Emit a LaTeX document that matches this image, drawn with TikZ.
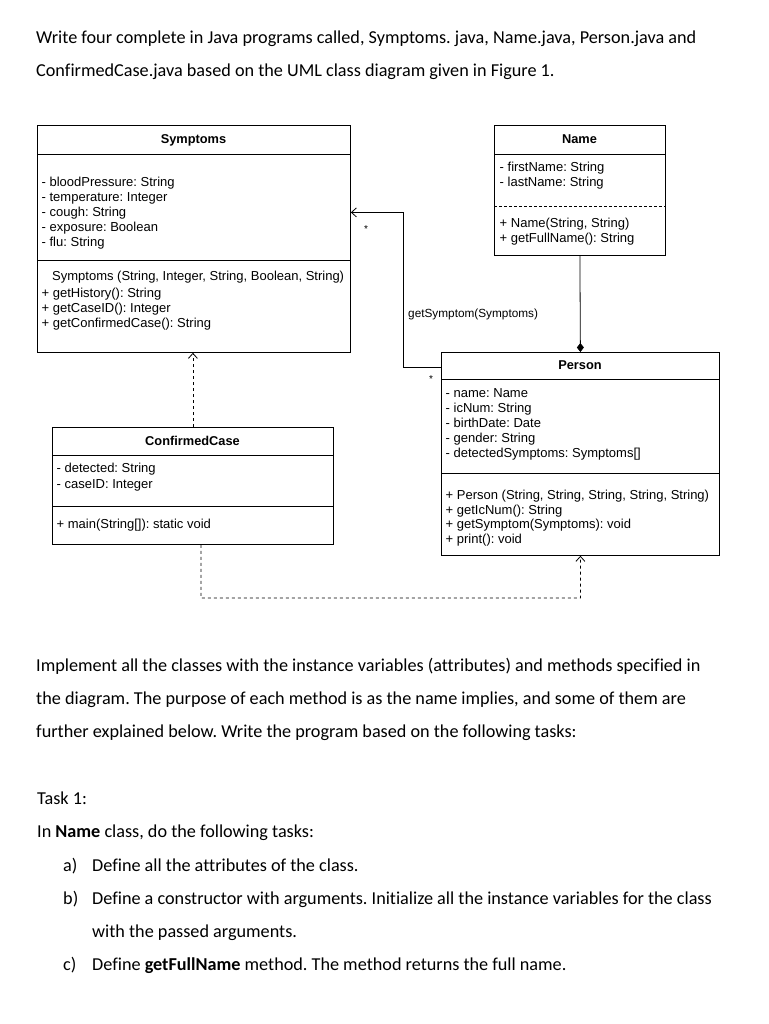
\documentclass[tikz,border=0pt]{standalone}
\usepackage{fontspec}
\setmainfont{Carlito}[Ligatures={NoCommon}]
\newfontfamily\umlfont{Liberation Sans}
\usetikzlibrary{arrows.meta}
\frenchspacing
\begin{document}
\begin{tikzpicture}[x=1pt,y=-1pt,
  classbox/.style={draw, line width=0.8pt, inner sep=0pt, anchor=north west},
  divline/.style={line width=0.8pt},
  ut/.style={anchor=base west, inner sep=0pt, font=\umlfont\fontsize{13}{15}\selectfont},
  lt/.style={anchor=base west, inner sep=0pt, font=\umlfont\fontsize{11.8}{14}\selectfont},
  uc/.style={anchor=base, inner sep=0pt, font=\umlfont\bfseries\fontsize{12.8}{15}\selectfont},
  bt/.style={anchor=base west, inner sep=0pt, font=\fontsize{18.2}{22}\selectfont},
  star/.style={inner sep=0pt, font=\umlfont\fontsize{10}{11}\selectfont},
  assoc/.style={line width=0.8pt, -{Straight Barb[length=5pt,width=9pt]}},
  dep/.style={line width=0.8pt, dash pattern=on 3pt off 3pt, -{Straight Barb[length=5pt,width=9pt]}},
  comp/.style={line width=0.8pt, -{Diamond[length=9pt,width=7pt]}}
]
\useasboundingbox (0,0) rectangle (768,1024);
\fill[white] (0,0) rectangle (768,1024);

% body text top
\node[bt] (l1) at (36,44) {Write four complete in Java programs called, Symptoms. java, Name.java, Person.java and};
\node[bt] (l2) at (36,77) {ConfirmedCase.java based on the UML class diagram given in Figure 1.};

% Symptoms
\node[classbox, minimum width=313pt, minimum height=227pt] (symp) at (37,125) {};
\draw[divline] (37,154) -- (350,154);
\draw[divline] (37,260) -- (350,260);
\node[uc] (sympt) at (193.5,144) {Symptoms};
\node[ut] (sa1) at (41.5,187) {- bloodPressure: String};
\node[ut] (sa2) at (41.5,202) {- temperature: Integer};
\node[ut] (sa3) at (41.5,217) {- cough: String};
\node[ut] (sa4) at (41.5,232) {- exposure: Boolean};
\node[ut] (sa5) at (41.5,247) {- flu: String};
\node[ut] (sm1) at (52,280) {Symptoms (String, Integer, String, Boolean, String)};
\node[ut] (sm2) at (41.5,297) {+ getHistory(): String};
\node[ut] (sm3) at (41.5,312) {+ getCaseID(): Integer};
\node[ut] (sm4) at (41.5,327) {+ getConfirmedCase(): String};

% Name
\node[classbox, minimum width=171pt, minimum height=130pt] (name) at (494,125) {};
\draw[divline] (494,154) -- (665,154);
\draw[divline, dash pattern=on 3pt off 2pt] (494,206) -- (665,206);
\node[uc] (namet) at (579.5,144) {Name};
\node[ut] (na1) at (499.5,172) {- firstName: String};
\node[ut] (na2) at (499.5,187) {- lastName: String};
\node[ut] (nm1) at (499.5,228) {+ Name(String, String)};
\node[ut] (nm2) at (499.5,242) {+ getFullName(): String};

% Person
\node[classbox, minimum width=278pt, minimum height=203pt] (person) at (441,352) {};
\draw[divline] (441,379) -- (719,379);
\draw[divline] (441,473) -- (719,473);
\node[uc] (persont) at (580,369) {Person};
\node[ut] (pa1) at (445.5,397) {- name: Name};
\node[ut] (pa2) at (445.5,412) {- icNum: String};
\node[ut] (pa3) at (445.5,427) {- birthDate: Date};
\node[ut] (pa4) at (445.5,442) {- gender: String};
\node[ut] (pa5) at (445.5,457) {- detectedSymptoms: Symptoms[]};
\node[ut] (pm1) at (445.5,499) {+ Person (String, String, String, String, String)};
\node[ut] (pm2) at (445.5,514) {+ getIcNum(): String};
\node[ut] (pm3) at (445.5,528) {+ getSymptom(Symptoms): void};
\node[ut] (pm4) at (445.5,543) {+ print(): void};

% ConfirmedCase
\node[classbox, minimum width=281pt, minimum height=117pt] (cc) at (52,427) {};
\draw[divline] (52,455) -- (333,455);
\draw[divline] (52,506) -- (333,506);
\node[uc] (cct) at (192.5,445) {ConfirmedCase};
\node[ut] (ca1) at (56.5,472) {- detected: String};
\node[ut] (ca2) at (56.5,488) {- caseID: Integer};
\node[ut] (cm1) at (56.5,528) {+ main(String[]): static void};

% connectors
\coordinate (bend1) at (403,367);
\draw[assoc] ([yshift=-15pt]person.north west) -- (bend1) |- ([yshift=26.5pt]symp.east);
\node[lt] (assocl) at (408,317) {getSymptom(Symptoms)};
\node[star] (st1) at (366,229) {*};
\node[star] (st2) at (431,379) {*};

\draw[comp] (name.south) -- (person.north);

\draw[dep] (cc.north) -- (cc.north |- symp.south);
\coordinate (bend2) at (201,598);
\draw[dep] ([xshift=8pt]cc.south) -- (bend2) -| (person.south);

% body text bottom
\node[bt] (l3) at (36,671) {Implement all the classes with the instance variables (attributes) and methods specified in};
\node[bt] (l4) at (36,704) {the diagram. The purpose of each method is as the name implies, and some of them are};
\node[bt] (l5) at (36,737) {further explained below. Write the program based on the following tasks:};
\node[bt] (l6) at (37,804) {Task 1:};
\node[bt] (l7) at (37,837) {In \textbf{Name} class, do the following tasks:};
\node[bt] (la) at (63,871) {a)};
\node[bt] (la2) at (92,871) {Define all the attributes of the class.};
\node[bt] (lb) at (63,904) {b)};
\node[bt] (lb2) at (92,904) {Define a constructor with arguments. Initialize all the instance variables for the class};
\node[bt] (lb3) at (92,937) {with the passed arguments.};
\node[bt] (lc) at (63,970) {c)};
\node[bt] (lc2) at (92,970) {Define \textbf{getFullName} method. The method returns the full name.};
\end{tikzpicture}
\end{document}
